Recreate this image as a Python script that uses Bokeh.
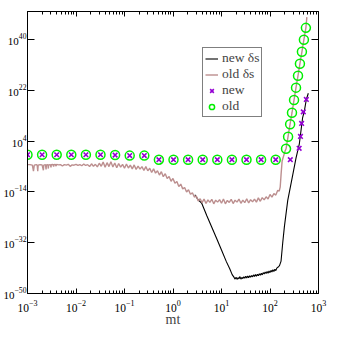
from bokeh.plotting import figure
from bokeh.models import FixedTicker, LogAxis, Legend, LegendItem, CustomJSTickFormatter, Range1d
from bokeh.embed import file_html
from bokeh.resources import INLINE

# ---------------- data ----------------
# old delta-s curve: log10(mt) and log10(value)
old_ds_lx = [-3.00, -2.95, -2.90, -2.877, -2.86, -2.82, -2.80, -2.789, -2.78, -2.74, -2.70, -2.672, -2.665,
             -2.63, -2.617, -2.61, -2.58, -2.570, -2.565, -2.53, -2.515, -2.51, -2.48, -2.461, -2.455, -2.43,
             -2.41, -2.40, -2.36, -2.32, -2.28, -2.24, -2.20, -2.16, -2.12, -2.08, -2.04, -2.00, -1.96, -1.92,
             -1.88, -1.84, -1.80, -1.76, -1.72, -1.68, -1.64, -1.60, -1.56, -1.52, -1.48, -1.44, -1.40, -1.36,
             -1.32, -1.28, -1.24, -1.20, -1.16, -1.12, -1.08, -1.04, -1.00, -0.96, -0.92, -0.88, -0.84, -0.80,
             -0.76, -0.72, -0.68, -0.64, -0.60, -0.56, -0.52, -0.48, -0.44, -0.40, -0.36, -0.32, -0.28, -0.24,
             -0.20, -0.16, -0.12, -0.08, -0.04, 0.00, 0.04, 0.08, 0.12, 0.16, 0.20, 0.24, 0.28, 0.32, 0.36,
             0.40, 0.44, 0.48, 0.52, 0.56, 0.60, 0.64, 0.68, 0.72, 0.76, 0.80, 0.84, 0.88, 0.92, 0.96, 1.00,
             1.04, 1.08, 1.12, 1.16, 1.20, 1.24, 1.28, 1.32, 1.36, 1.40, 1.44, 1.48, 1.52, 1.56, 1.60, 1.64,
             1.68, 1.72, 1.76, 1.80, 1.84, 1.88, 1.92, 1.96, 2.00, 2.04, 2.08, 2.12, 2.16, 2.19, 2.21, 2.23,
             2.25, 2.31, 2.331, 2.372, 2.413, 2.454, 2.495, 2.536, 2.577, 2.617, 2.658, 2.699, 2.740, 2.76]
old_ds_ly = [-4.3, -4.3, -4.5, -6.6, -4.5, -4.3, -4.5, -6.6, -4.5, -4.3, -4.4, -6.3, -4.5,
             -4.3, -6.0, -4.4, -4.3, -5.7, -4.4, -4.3, -5.3, -4.3, -4.2, -5.0, -4.3, -4.2,
             -4.8, -4.2, -4.4, -4.3, -4.8, -4.3, -4.5, -4.2, -4.9, -4.4, -4.5, -4.2, -4.6, -4.3,
             -4.7, -4.1, -4.6, -4.3, -5.0, -4.0, -4.9, -4.2, -5.1, -3.8, -4.9, -3.4, -5.2, -3.6,
             -5.0, -3.3, -5.1, -3.7, -5.4, -3.9, -5.2, -4.2, -5.6, -4.1, -5.5, -4.5, -5.8, -4.4,
             -6.0, -4.8, -5.9, -5.0, -6.4, -5.0, -6.5, -5.6, -7.1, -5.8, -7.3, -6.5, -8.0, -6.8,
             -8.6, -7.5, -9.2, -8.5, -10.2, -9.2, -10.9, -10.3, -12.1, -11.2, -12.9, -12.4, -14.0, -13.2, -14.8,
             -14.3, -15.8, -15.4, -17.2, -16.4, -17.8, -16.5, -18.1, -16.8, -17.7, -16.6, -18.2, -16.9, -17.6, -16.7, -18.0,
             -16.5, -18.2, -17.0, -17.7, -16.6, -18.1, -16.9, -17.6, -16.5, -18.0, -16.9, -17.8, -16.4, -17.9, -16.7, -17.5,
             -16.5, -17.6, -16.1, -17.3, -16.0, -16.8, -15.7, -16.5, -14.9, -15.8, -14.6, -15.1, -13.4, -13.7, -12.3, -7.4,
             -3.0, 0.5, 1.3, 5.6, 10.0, 14.1, 18.6, 23.0, 27.2, 31.5, 35.7, 40.0, 44.2, 48.0]

# new delta-s curve
new_ds_lx = [0.45, 0.52, 0.59, 0.70, 0.80, 0.90, 1.00, 1.10, 1.17, 1.22, 1.26, 1.28, 1.30, 1.32, 1.34, 1.36,
             1.38, 1.40, 1.42, 1.44, 1.46, 1.48, 1.50, 1.52, 1.54, 1.56, 1.58, 1.60, 1.62, 1.64, 1.66, 1.68,
             1.70, 1.72, 1.74, 1.76, 1.78, 1.80, 1.82, 1.84, 1.86, 1.88, 1.90, 1.92, 1.94, 1.96, 1.98, 2.00,
             2.02, 2.04, 2.06, 2.08, 2.10, 2.12, 2.14, 2.17, 2.196, 2.228, 2.263, 2.298, 2.366, 2.468, 2.536,
             2.605, 2.673, 2.708, 2.749, 2.79]
new_ds_ly = [-15.0, -16.8, -17.9, -22.5, -26.5, -30.5, -34.6, -38.7, -41.2, -43.3, -44.3, -44.9, -44.2, -45.0, -44.4, -44.8,
             -44.0, -44.9, -44.3, -44.7, -44.1, -44.6, -43.9, -44.5, -43.8, -44.4, -43.7, -44.2, -43.6, -44.1, -43.4, -44.0,
             -43.3, -43.9, -43.2, -43.7, -43.0, -43.5, -42.8, -43.4, -42.6, -43.1, -42.4, -42.9, -42.2, -42.8, -42.0, -42.6,
             -41.8, -42.4, -41.6, -42.2, -41.4, -41.9, -41.0, -40.6, -40.1, -38.5, -31.9, -26.1, -17.0, -8.0, -2.0,
             3.1, 12.4, 14.7, 18.8, 21.0]

# markers
new_mt = [0.001, 0.002, 0.004, 0.008, 0.016, 0.032, 0.064, 0.128, 0.256, 0.512, 1.024, 2.048, 4.096, 8.192,
          16.384, 32.768, 65.536, 131.072, 262.144, 399, 425, 449, 486, 561]
new_ly = [-0.8, -0.8, -0.8, -0.8, -0.8, -0.8, -0.9, -1.1, -1.1, -2.55, -2.55, -2.55, -2.55, -2.55,
          -2.55, -2.55, -2.55, -2.55, -2.55, 1.5, 5.7, 10.3, 14.4, 18.8]
old_mt = [0.001, 0.002, 0.004, 0.008, 0.016, 0.032, 0.064, 0.128, 0.256, 0.512, 1.024, 2.048, 4.096, 8.192,
          16.384, 32.768, 65.536, 131.072, 214, 236, 260, 284, 313, 344, 378, 414, 455, 500, 550]
old_ly = [-0.8, -0.8, -0.8, -0.8, -0.8, -0.8, -0.9, -1.1, -1.1, -2.55, -2.55, -2.55, -2.55, -2.55,
          -2.55, -2.55, -2.55, -2.55, 1.3, 5.6, 10.0, 14.1, 18.6, 23.0, 27.2, 31.5, 35.7, 40.0, 44.2]

x_ticks = [1e-3, 1e-2, 1e-1, 1e0, 1e1, 1e2, 1e3]
y_ticks = [1e-50, 1e-32, 1e-14, 1e4, 1e22, 1e40]
x_title = "mt"

# ---------------- plot ----------------
FONT = "Liberation Serif"

p = figure(width=329, height=329, x_axis_type="log", y_axis_type="log",
           x_range=Range1d(1e-3, 1e3), y_range=Range1d(1e-50, 1e50),
           output_backend="svg", toolbar_location=None,
           min_border_left=25, min_border_right=11, min_border_top=11, min_border_bottom=32)
p.grid.visible = False
p.outline_line_color = "black"
p.background_fill_color = "white"
p.border_fill_color = "white"

x_minor = [m * t for t in x_ticks[:-1] for m in range(2, 10)]

def style_axis(ax, ticks, minor, labels=True, major_len=6, minor_len=3, standoff=2, fsize="11px"):
    ax.ticker = FixedTicker(ticks=ticks, minor_ticks=minor)
    ax.major_tick_in = major_len
    ax.major_tick_out = 0
    ax.minor_tick_in = minor_len if minor else 0
    ax.minor_tick_out = 0
    ax.axis_line_color = "black"
    ax.major_tick_line_color = "black"
    ax.minor_tick_line_color = "black"
    ax.major_label_text_font = FONT
    ax.major_label_text_font_size = fsize
    ax.major_label_text_color = "black"
    ax.major_label_text_line_height = 1.0
    ax.major_label_standoff = standoff
    if not labels:
        ax.formatter = CustomJSTickFormatter(code="return ''")
        ax.major_label_standoff = 0
        ax.major_label_text_font_size = "1px"

style_axis(p.xaxis[0], x_ticks, x_minor, major_len=5, minor_len=3, standoff=6, fsize="11.5px")
style_axis(p.yaxis[0], y_ticks, [], major_len=7, standoff=1, fsize="11px")
p.xaxis.axis_label = x_title
p.xaxis.axis_label_text_font = FONT
p.xaxis.axis_label_text_font_size = "14px"
p.xaxis.axis_label_text_font_style = "normal"
p.xaxis.axis_label_text_line_height = 0.5
p.xaxis.axis_label_standoff = -3

top = LogAxis()
style_axis(top, x_ticks, x_minor, labels=False, major_len=5, minor_len=3)
p.add_layout(top, "above")
right = LogAxis()
style_axis(right, y_ticks, [], labels=False, major_len=7)
p.add_layout(right, "right")

r_new_ds = p.line([10 ** v for v in new_ds_lx], [10 ** v for v in new_ds_ly], line_color="black", line_width=1.1)
r_old_ds = p.line([10 ** v for v in old_ds_lx], [10 ** v for v in old_ds_ly], line_color="#BC8F8F", line_width=1.4)
r_new = p.scatter(new_mt, [10 ** v for v in new_ly], marker="x", size=6.5, line_color="#9400D3", line_width=1.6)
r_old = p.scatter(old_mt, [10 ** v for v in old_ly], marker="circle", size=9, fill_color=None,
                  line_color="#00EE00", line_width=1.5)

legend = Legend(items=[LegendItem(label="new δs", renderers=[r_new_ds]),
                       LegendItem(label="old δs", renderers=[r_old_ds]),
                       LegendItem(label="new", renderers=[r_new]),
                       LegendItem(label="old", renderers=[r_old])],
                location=(175, 176))
legend.border_line_color = "black"
legend.border_line_width = 1
legend.background_fill_color = "white"
legend.background_fill_alpha = 1
legend.padding = 2
legend.spacing = 0
legend.margin = 0
legend.label_height = 13
legend.glyph_height = 13
legend.glyph_width = 13
legend.label_standoff = 4
legend.label_text_font = FONT
legend.label_text_font_size = "13.5px"
legend.label_text_line_height = 0.6
p.add_layout(legend, "center")

open("out.html", "w").write(file_html(p, INLINE))
